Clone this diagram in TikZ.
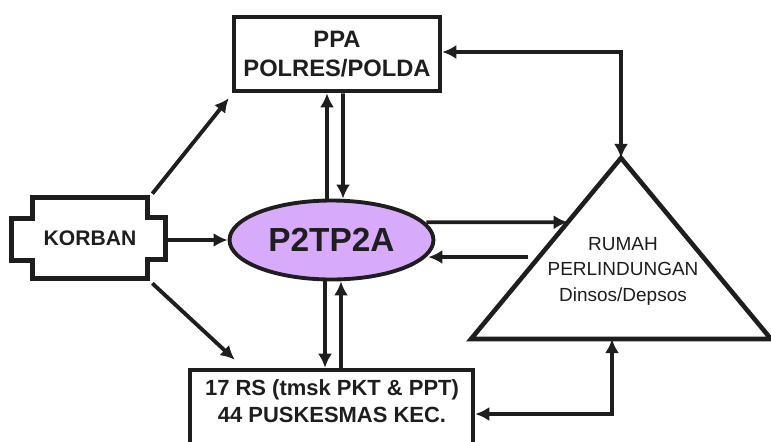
\documentclass[tikz,border=0pt]{standalone}
\usepackage{fontspec}
\setmainfont{Liberation Sans}
\usetikzlibrary{arrows.meta,calc,shapes.geometric}
\definecolor{lavender}{RGB}{215,170,252}
\definecolor{ink}{RGB}{30,30,30}

\begin{document}
\begin{tikzpicture}[x = 0.02cm, y = -0.02cm, color = ink,
    box/.style = {draw, line width = 2.6pt, inner sep = 0pt},
    boldtext/.style = {font = \bfseries\fontsize{13.5}{16.5}\selectfont, align = center},
    arr/.style = {line width = 2.2pt, -{Latex[length = 8pt, width = 8pt]}},
    twoway/.style = {line width = 2.2pt, {Latex[length = 8pt, width = 8pt]}-{Latex[length = 8pt, width = 8pt]}}]
    \clip (0,0) rectangle (771,441);

    % nodes
    \node[box, boldtext, minimum width = 4.12cm, minimum height = 1.48cm] (ppa) at (337,54) {PPA\\POLRES/POLDA};
    \node[draw, ellipse, fill = lavender, line width = 2.2pt, inner sep = 0pt,
        minimum width = 4.08cm, minimum height = 1.58cm,
        font = \bfseries\fontsize{19}{23}\selectfont] (p2tp2a) at (331.5,240) {P2TP2A};
    \node[minimum width = 2.28cm, minimum height = 1.6cm, inner sep = 0pt,
        font = \bfseries\fontsize{12}{14}\selectfont] (korban) at (90,238) {KORBAN};
    \node[box, minimum width = 5.66cm, minimum height = 2cm] (rs) at (331.5,420) {};
    \node[boldtext, font = \bfseries\fontsize{12.5}{15.3}\selectfont] (rstext) at (332,401) {17 RS (tmsk PKT \& PPT)\\44 PUSKESMAS KEC.};

    % korban outline with side tabs
    \draw[line width = 2.6pt] (korban.north west) -- (korban.north east) -- ++(0,20) -- ++(18,0)
        -- ++(0,42) -- ++(-18,0) -- (korban.south east) -- (korban.south west)
        -- ++(0,-18) -- ++(-21,0) -- ++(0,-42) -- ++(21,0) -- cycle;

    % rumah perlindungan
    \coordinate (top) at (621,158);
    \coordinate (bl) at (471,339);
    \coordinate (br) at (771,339);
    \draw[line width = 2.6pt] (top) -- (bl) -- (br) -- cycle;
    \node[align = center, font = \fontsize{10.8}{14.5}\selectfont] (rumah) at (623,271) {RUMAH\\PERLINDUNGAN\\Dinsos/Depsos};
    \coordinate (tin) at ($(top)!0.355!(bl)$);
    \coordinate (tout) at (528,257);
    \coordinate (bup) at ($(bl)!0.47!(br)$);

    % connectors
    \draw[arr] ($(korban.east)+(18,2)$) -- (p2tp2a.west);
    \draw[arr] ($(korban.north east)+(5,-4)$) -- ($(ppa.south west)+(-3,5)$);
    \draw[arr] ($(korban.south east)+(5,5)$) -- ($(rs.north west)+(47,-8)$);
    \draw[arr] ($(p2tp2a.north)+(-4.5,0)$) -- ($(ppa.south)+(-10,0)$);
    \draw[arr] ($(ppa.south)+(6,0)$) -- ($(p2tp2a.north)+(11.5,0)$);
    \draw[arr] ($(p2tp2a.south)+(-6.5,0)$) -- ($(rs.north)+(-6.5,0)$);
    \draw[arr] ($(rs.north)+(9.5,0)$) -- ($(p2tp2a.south)+(9.5,0)$);
    \draw[arr] ($(p2tp2a.east)+(-9,-17.7)$) -- (tin);
    \draw[arr] (tout) -- ($(p2tp2a.east)+(-7,17)$);
    \draw[twoway] (top) |- ($(ppa.east)+(0,-2)$);
    \draw[twoway] (bup) |- ($(rs.east)+(0,-6)$);
\end{tikzpicture}
\end{document}
